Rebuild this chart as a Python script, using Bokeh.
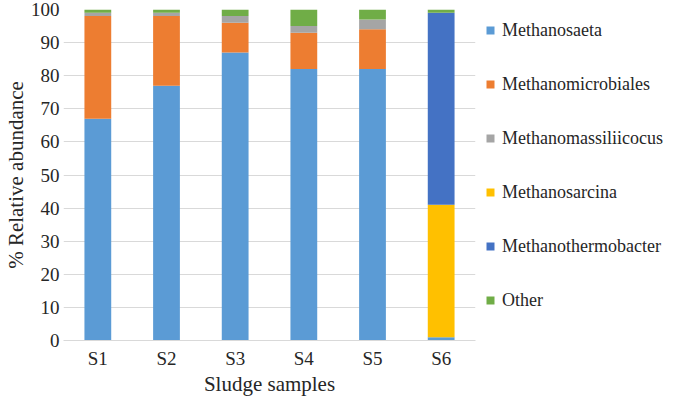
from bokeh.plotting import figure
from bokeh.models import Legend, LegendItem, ColumnDataSource, Range1d, SingleIntervalTicker
from bokeh.embed import file_html
from bokeh.resources import INLINE

samples = ["S1", "S2", "S3", "S4", "S5", "S6"]
series = ["Methanosaeta", "Methanomicrobiales", "Methanomassiliicocus",
          "Methanosarcina", "Methanothermobacter", "Other"]
methanosaeta = [67, 77, 87, 82, 82, 1]
methanomicrobiales = [31, 21, 9, 11, 12, 0]
methanomassiliicocus = [1, 1, 2, 2, 3, 0]
methanosarcina = [0, 0, 0, 0, 0, 40]
methanothermobacter = [0, 0, 0, 0, 0, 58]
other = [1, 1, 2, 5, 3, 1]
colors = ["#5B9BD5", "#ED7D31", "#A5A5A5", "#FFC000", "#4472C4", "#70AD47"]

data = {"x": samples,
        "Methanosaeta": methanosaeta,
        "Methanomicrobiales": methanomicrobiales,
        "Methanomassiliicocus": methanomassiliicocus,
        "Methanosarcina": methanosarcina,
        "Methanothermobacter": methanothermobacter,
        "Other": other}
src = ColumnDataSource(data)

FONT = "Liberation Serif"
TXT = "#262626"

p = figure(x_range=samples, frame_width=412, frame_height=331,
           output_backend="svg", toolbar_location=None,
           min_border_left=0, min_border_right=0,
           min_border_top=9, min_border_bottom=0)
p.y_range = Range1d(0, 100)

rs = p.vbar_stack(series, x="x", width=0.39, color=colors, source=src,
                  line_color=None)

p.outline_line_color = None
p.background_fill_color = "white"
p.border_fill_color = "white"

p.xgrid.grid_line_color = None
p.ygrid.grid_line_color = "#D9D9D9"
p.ygrid.grid_line_width = 1

p.yaxis.ticker = SingleIntervalTicker(interval=10)
p.yaxis.axis_line_color = None
p.yaxis.major_tick_line_color = None
p.yaxis.minor_tick_line_color = None
p.yaxis.major_tick_out = 0
p.yaxis.minor_tick_out = 0
p.yaxis.major_label_standoff = 4
p.yaxis.axis_label = "% Relative abundance"
p.yaxis.axis_label_standoff = 0

p.xaxis.axis_line_color = "#D9D9D9"
p.xaxis.major_tick_line_color = None
p.xaxis.minor_tick_line_color = None
p.xaxis.major_tick_out = 0
p.xaxis.minor_tick_out = 0
p.xaxis.major_label_standoff = 7
p.xaxis.axis_label = "Sludge samples"
p.xaxis.axis_label_standoff = 0

for ax in (p.xaxis, p.yaxis):
    ax.major_label_text_font = FONT
    ax.major_label_text_font_size = "19px"
    ax.major_label_text_color = TXT
    ax.axis_label_text_font = FONT
    ax.axis_label_text_font_size = "21px"
    ax.axis_label_text_font_style = "normal"
    ax.axis_label_text_color = TXT

items = [LegendItem(label=s, renderers=[r]) for s, r in zip(series, rs)]
legend = Legend(items=items, location="top_left", orientation="vertical",
                glyph_width=10, glyph_height=10, label_standoff=7,
                label_height=22, spacing=32, padding=0, margin=10,
                border_line_color=None, background_fill_alpha=0,
                label_text_font=FONT, label_text_font_size="18px",
                label_text_color=TXT)
p.add_layout(legend, "right")

open("out.html", "w").write(file_html(p, INLINE))
